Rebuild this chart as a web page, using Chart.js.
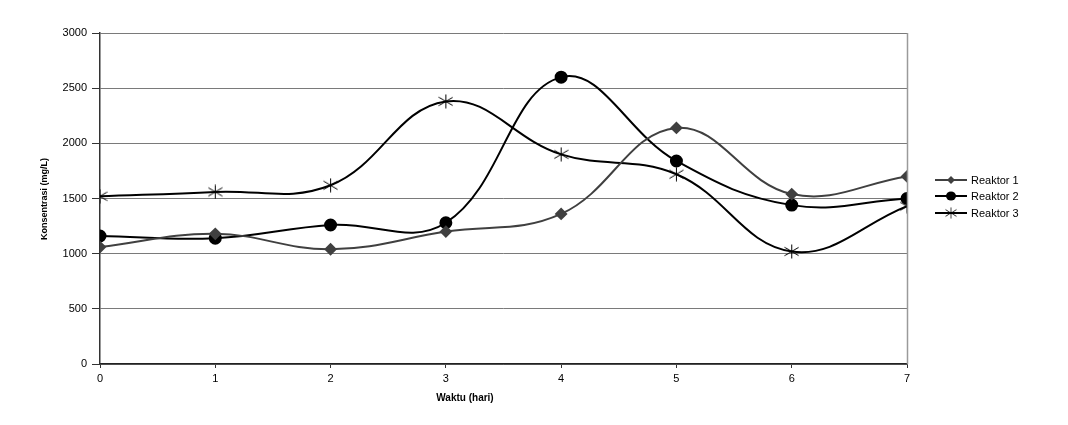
<!DOCTYPE html>
<html>
<head>
<meta charset="utf-8">
<script src="https://cdn.jsdelivr.net/npm/chart.js@4/dist/chart.umd.min.js"></script>
<style>
  html, body { margin: 0; padding: 0; background: #fff; }
  #wrap { width: 1068px; height: 425px; }
</style>
</head>
<body>
<div id="wrap"><canvas id="chart"></canvas></div>
<script>
// data
const days = [0, 1, 2, 3, 4, 5, 6, 7];
const reaktor1 = [1060, 1180, 1040, 1200, 1360, 2140, 1540, 1700];
const reaktor2 = [1160, 1140, 1260, 1280, 2600, 1840, 1440, 1500];
const reaktor3 = [1520, 1560, 1620, 2380, 1900, 1720, 1020, 1430];
const seriesNames = ["Reaktor 1", "Reaktor 2", "Reaktor 3"];
const yTicks = [0, 500, 1000, 1500, 2000, 2500, 3000];

const FONT = "'Liberation Sans', Arial, sans-serif";

// asterisk marker like the excel one (X + vertical bar)
function makeStar(size, color) {
  const c = document.createElement("canvas");
  c.width = size; c.height = size;
  const g = c.getContext("2d");
  const m = size / 2, r = size / 2 - 0.5;
  g.strokeStyle = color;
  g.lineWidth = 1;
  g.beginPath();
  g.moveTo(m - r, m - r * 0.6); g.lineTo(m + r, m + r * 0.6);
  g.moveTo(m - r, m + r * 0.6); g.lineTo(m + r, m - r * 0.6);
  g.moveTo(m, m - r); g.lineTo(m, m + r);
  g.stroke();
  return c;
}
const starImg = makeStar(15, "#000");

function toXY(vals) {
  return vals.map((v, i) => ({ x: days[i], y: v }));
}

// plugin: legend, axis titles, right border of plot
const extras = {
  id: "extras",
  afterDraw(chart) {
    const ctx = chart.ctx;
    const a = chart.chartArea;
    ctx.save();
    // right border
    ctx.strokeStyle = "#9a9a9a";
    ctx.lineWidth = 1.5;
    ctx.beginPath();
    ctx.moveTo(a.right + 0.5, a.top);
    ctx.lineTo(a.right + 0.5, a.bottom);
    ctx.stroke();

    // axis titles
    ctx.fillStyle = "#000";
    ctx.font = "bold 10px " + FONT;
    ctx.textAlign = "center";
    ctx.textBaseline = "middle";
    ctx.fillText("Waktu (hari)", 465, 398);
    ctx.save();
    ctx.translate(45, 199);
    ctx.rotate(-Math.PI / 2);
    ctx.font = "bold 9px " + FONT;
    ctx.fillText("Konsentrasi (mg/L)", 0, 0);
    ctx.restore();

    // legend
    const ys = [180, 196, 213];
    chart.data.datasets.forEach((ds, i) => {
      const y = ys[i];
      ctx.strokeStyle = ds.borderColor;
      ctx.lineWidth = 2;
      ctx.beginPath();
      ctx.moveTo(935, y);
      ctx.lineTo(967, y);
      ctx.stroke();
      const mx = 951;
      if (ds.pointStyle === "rectRot") {
        ctx.fillStyle = ds.pointBackgroundColor;
        ctx.beginPath();
        ctx.moveTo(mx, y - 4); ctx.lineTo(mx + 4, y); ctx.lineTo(mx, y + 4); ctx.lineTo(mx - 4, y);
        ctx.closePath(); ctx.fill();
      } else if (ds.pointStyle === "circle") {
        ctx.fillStyle = ds.pointBackgroundColor;
        ctx.beginPath();
        ctx.ellipse(mx, y, 5, 4.5, 0, 0, Math.PI * 2);
        ctx.fill();
      } else {
        ctx.drawImage(starImg, mx - 6, y - 6, 12, 12);
      }
      ctx.fillStyle = "#000";
      ctx.font = "11px " + FONT;
      ctx.textAlign = "left";
      ctx.fillText(ds.label, 971, y + 1);
    });
    ctx.restore();
  }
};

new Chart(document.getElementById("chart"), {
  type: "line",
  data: {
    datasets: [
      {
        label: seriesNames[0],
        data: toXY(reaktor1),
        borderColor: "#404040",
        backgroundColor: "#404040",
        pointBackgroundColor: "#404040",
        pointBorderColor: "#404040",
        pointStyle: "rectRot",
        pointRadius: 5,
        borderWidth: 2,
        tension: 0.4
      },
      {
        label: seriesNames[1],
        data: toXY(reaktor2),
        borderColor: "#000",
        backgroundColor: "#000",
        pointBackgroundColor: "#000",
        pointBorderColor: "#000",
        pointStyle: "circle",
        pointRadius: 5.5,
        borderWidth: 2,
        tension: 0.4
      },
      {
        label: seriesNames[2],
        data: toXY(reaktor3),
        borderColor: "#000",
        backgroundColor: "#000",
        pointStyle: starImg,
        pointRadius: 7,
        borderWidth: 2,
        tension: 0.4
      }
    ]
  },
  options: {
    responsive: true,
    maintainAspectRatio: false,
    animation: false,
    layout: { padding: { top: 33, right: 161, left: 0, bottom: 0 } },
    plugins: {
      legend: { display: false },
      tooltip: { enabled: false }
    },
    scales: {
      x: {
        type: "linear",
        min: 0,
        max: 7,
        afterFit: s => { s.height = 61; },
        ticks: {
          stepSize: 1,
          color: "#000",
          font: { family: FONT, size: 11 },
          padding: 4
        },
        grid: {
          drawOnChartArea: false,
          drawTicks: true,
          tickLength: 4,
          tickColor: "#333"
        },
        border: { color: "#222", width: 1.5 }
      },
      y: {
        min: 0,
        max: 3000,
        afterFit: s => { s.width = 100; },
        afterBuildTicks: s => { s.ticks = yTicks.map(v => ({ value: v })); },
        ticks: {
          color: "#000",
          font: { family: FONT, size: 11 },
          padding: 5,
          callback: v => String(v)
        },
        grid: {
          color: "#7a7a7a",
          lineWidth: 1,
          tickLength: 8,
          tickColor: "#333"
        },
        border: { color: "#333", width: 1.5 }
      }
    }
  },
  plugins: [extras]
});
</script>
</body>
</html>
